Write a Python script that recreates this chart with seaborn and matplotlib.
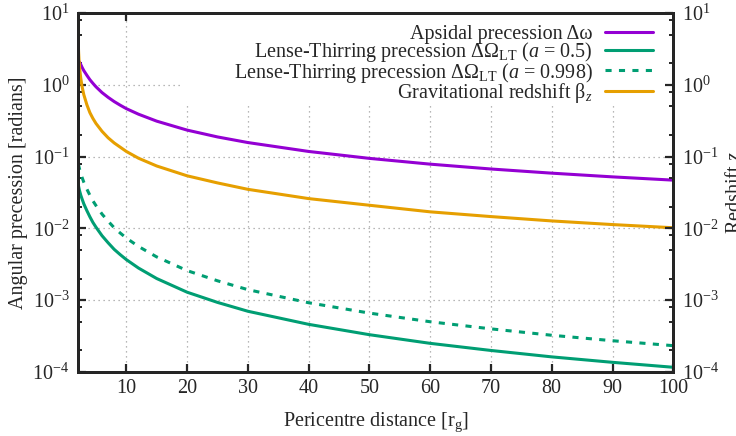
import numpy as np
import pandas as pd
import matplotlib
matplotlib.use("Agg")
import matplotlib.pyplot as plt
import matplotlib.ticker as mticker
from matplotlib.patches import Rectangle
import seaborn as sns

# ---- data ----
x_aps = [2.3, 2.5, 2.75, 3, 3.5, 4, 4.5, 5, 6, 7, 8, 9, 10, 12, 15, 20, 25, 30, 40, 50, 60, 70, 80, 90, 100]
y_aps = [2.08, 1.92, 1.73, 1.58, 1.36, 1.18, 1.05, 0.94, 0.78, 0.67, 0.585, 0.52, 0.466, 0.39, 0.312, 0.234, 0.188,
         0.157, 0.118, 0.0945, 0.0785, 0.0672, 0.0588, 0.0522, 0.047]

x_lt = [2.1, 2.3, 2.5, 2.75, 3, 3.5, 4, 4.5, 5, 6, 7, 8, 9, 10, 12, 15, 20, 25, 30, 40, 50, 60, 70, 80, 90, 100]
y_lt05 = [0.040, 0.0335, 0.029, 0.0252, 0.022, 0.0177, 0.0145, 0.0121, 0.0104, 0.0079, 0.0063, 0.0051, 0.0043, 0.00367,
          0.0028, 0.0020, 0.00129, 0.00093, 0.00070, 0.00046, 0.00033, 0.00025, 0.000199, 0.000162, 0.000136, 0.000116]
y_lt998 = [0.079, 0.067, 0.058, 0.0503, 0.044, 0.0353, 0.029, 0.0242, 0.0208, 0.0158, 0.0126, 0.0102, 0.0086, 0.00733,
           0.0056, 0.0040, 0.00258, 0.00186, 0.00140, 0.00092, 0.00066, 0.00050, 0.000398, 0.000324, 0.000272, 0.000232]

x_z = [2.01, 2.02, 2.035, 2.05, 2.075, 2.1, 2.15, 2.2, 2.3, 2.4, 2.5, 2.7, 3, 3.5, 4, 4.5, 5, 6, 7, 8, 10, 12, 15, 20,
       25, 30, 40, 50, 60, 70, 80, 90, 100]
y_z = [13.1, 9.0, 6.4, 5.4, 4.3, 3.58, 2.79, 2.32, 1.77, 1.45, 1.24, 0.96, 0.73, 0.53, 0.41, 0.34, 0.29, 0.225, 0.183,
       0.155, 0.118, 0.095, 0.074, 0.054, 0.043, 0.035, 0.026, 0.021, 0.017, 0.0146, 0.0127, 0.0113, 0.0102]

labels = [
    "Apsidal precession Δω",
    r"Lense-Thirring precession ΔΩ$_{\mathrm{LT}}$ ($a$ = 0.5)",
    r"Lense-Thirring precession ΔΩ$_{\mathrm{LT}}$ ($a$ = 0.998)",
    r"Gravitational redshift β$_{z}$",
]
x_ticks = [10, 20, 30, 40, 50, 60, 70, 80, 90, 100]

# ---- style ----
sns.set_style("ticks")
plt.rcParams["font.family"] = ["Liberation Serif", "DejaVu Serif"]
plt.rcParams["mathtext.fontset"] = "custom"
plt.rcParams["mathtext.rm"] = "Liberation Serif"
plt.rcParams["mathtext.it"] = "Liberation Serif:italic"
plt.rcParams["mathtext.bf"] = "Liberation Serif:bold"

purple = "#9400D3"
green = "#009E73"
orange = "#E69F00"
lw = 2.2
fs = 14.5

fig = plt.figure(figsize=(7.36, 4.36), dpi=100)
ax = fig.add_axes([0.1056, 0.147, 0.8092, 0.823])

d_aps = pd.DataFrame({"x": x_aps, "y": y_aps})
d_lt = pd.DataFrame({"x": x_lt, "a05": y_lt05, "a998": y_lt998})
d_z = pd.DataFrame({"x": x_z, "y": y_z})

sns.lineplot(data=d_aps, x="x", y="y", ax=ax, color=purple, lw=lw, label=labels[0], zorder=3)
sns.lineplot(data=d_lt, x="x", y="a05", ax=ax, color=green, lw=lw, label=labels[1], zorder=3)
sns.lineplot(data=d_lt, x="x", y="a998", ax=ax, color=green, lw=lw, label=labels[2], zorder=3,
             linestyle=(0, (2.0, 2.4)))
sns.lineplot(data=d_z, x="x", y="y", ax=ax, color=orange, lw=lw, label=labels[3], zorder=3)

ax.set_yscale("log")
ax.set_xlim(2, 100)
ax.set_ylim(1e-4, 10)
ax.set_xticks(x_ticks)
ax.xaxis.set_minor_locator(mticker.NullLocator())
ax.yaxis.set_major_locator(mticker.LogLocator(base=10, numticks=10))
ax.yaxis.set_minor_locator(mticker.LogLocator(base=10, subs=[2, 5, 8], numticks=10))
ax.yaxis.set_minor_formatter(mticker.NullFormatter())

ax.set_axisbelow(True)
ax.grid(True, which="major", color="#a0a0a0", linestyle=(0, (1, 3)), lw=0.9)

for s in ax.spines.values():
    s.set_linewidth(2.0)
    s.set_color("black")
    s.set_zorder(5)

ax.tick_params(axis="both", which="major", direction="in", length=6, width=1.6, labelsize=fs,
               top=True, right=False, pad=6)
ax.tick_params(axis="y", which="minor", direction="in", length=3, width=1.4, right=False)
ax.tick_params(axis="x", pad=5)

ax.set_xlabel(r"Pericentre distance [r$_{\mathrm{g}}$]", fontsize=fs, labelpad=9)
ax.set_ylabel("Angular precession [radians]", fontsize=fs, labelpad=3)

# right axis
ax2 = ax.twinx()
ax2.set_yscale("log")
ax2.set_ylim(1e-4, 10)
ax2.yaxis.set_major_locator(mticker.LogLocator(base=10, numticks=10))
ax2.yaxis.set_minor_locator(mticker.LogLocator(base=10, subs=[2, 5, 8], numticks=10))
ax2.yaxis.set_minor_formatter(mticker.NullFormatter())
ax2.tick_params(axis="y", which="major", direction="in", length=6, width=1.6, labelsize=fs, pad=6)
ax2.tick_params(axis="y", which="minor", direction="in", length=3, width=1.4)
ax2.set_ylabel(r"Redshift $z$", fontsize=fs, labelpad=5)
for s in ax2.spines.values():
    s.set_linewidth(2.0)

# opaque key area (covers the grid like the original)
ax.add_patch(Rectangle((0.175, 0.746), 0.825, 0.254, transform=ax.transAxes,
                       facecolor="white", edgecolor="none", zorder=1))

leg = ax.legend(loc="upper right", bbox_to_anchor=(0.966, 0.966), frameon=False, fontsize=fs,
                markerfirst=False, handlelength=2.4, handletextpad=0.6, labelspacing=-0.195,
                borderpad=0, borderaxespad=0)
leg.set_zorder(6)

fig.savefig("out.png", dpi=100)
